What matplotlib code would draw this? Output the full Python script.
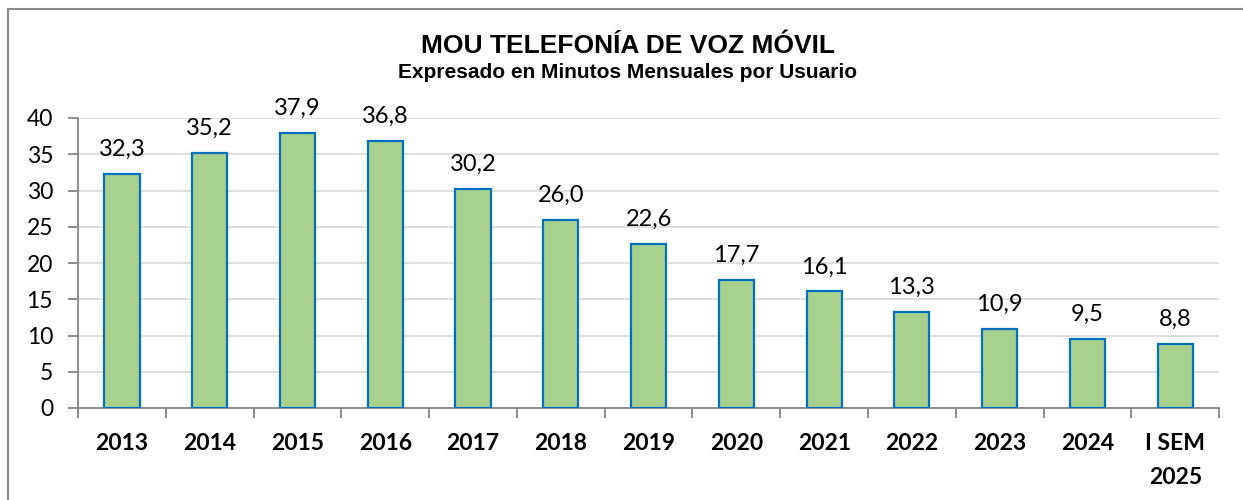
#!/usr/bin/env python3
"""MOU telefonía de voz móvil: bar chart of monthly minutes per user."""

import matplotlib

matplotlib.use("Agg")
import matplotlib.pyplot as plt
from matplotlib.patches import Rectangle

years = ["2013", "2014", "2015", "2016", "2017", "2018", "2019",
         "2020", "2021", "2022", "2023", "2024", "I SEM\n2025"]
mou = [32.3, 35.2, 37.9, 36.8, 30.2, 26.0, 22.6, 17.7, 16.1, 13.3, 10.9, 9.5, 8.8]
y_ticks = [0, 5, 10, 15, 20, 25, 30, 35, 40]

TITLE = "MOU TELEFONÍA DE VOZ MÓVIL"
SUBTITLE = "Expresado en Minutos Mensuales por Usuario"

BAR_FILL = "#a9d18e"
BAR_EDGE = "#0070c0"
AXIS_GRAY = "#868686"
GRID_GRAY = "#d9d9d9"

plt.rcParams["font.family"] = ["Lato", "DejaVu Sans"]

fig = plt.figure(figsize=(12.43, 5.0), dpi=100)
ax = fig.add_axes([0.0628, 0.184, 0.918, 0.580])

# outer chart frame (left and top only are visible in the reference)
fig.patches.append(Rectangle((0.0068, -0.05), 1.2, 0.032 + 1.0, transform=fig.transFigure,
                             fill=False, edgecolor="#8c8c8c", linewidth=1.5))

x = list(range(len(years)))
ax.bar(x, mou, width=0.4, color=BAR_FILL, edgecolor=BAR_EDGE, linewidth=1.6, zorder=3)

for xi, v in zip(x, mou):
    ax.annotate(f"{v:.1f}".replace(".", ","), (xi, v), xytext=(0, 10),
                textcoords="offset points", ha="center", va="bottom", fontsize=17)

ax.set_xlim(-0.5, len(years) - 0.5)
ax.set_ylim(0, 40)
ax.set_yticks(y_ticks)
ax.set_yticklabels([str(t) for t in y_ticks], fontsize=16.5)
ax.yaxis.grid(True, color=GRID_GRAY, linewidth=1.2, zorder=0)
ax.set_axisbelow(True)

ax.set_xticks(x)
ax.set_xticklabels(years, fontsize=16.5, fontweight="bold", va="top", linespacing=1.75)
ax.tick_params(axis="x", length=0, pad=18)
ax.set_xticks([i - 0.5 for i in range(len(years) + 1)], minor=True)
ax.tick_params(axis="x", which="minor", length=7, width=1.3, color=AXIS_GRAY, direction="out")
ax.tick_params(axis="y", length=7, width=1.3, color=AXIS_GRAY, direction="out", pad=11)

for side in ("top", "right"):
    ax.spines[side].set_visible(False)
for side in ("left", "bottom"):
    ax.spines[side].set_color(AXIS_GRAY)
    ax.spines[side].set_linewidth(1.3)

fig.text(0.505, 0.908, TITLE, ha="center", va="center", fontsize=19,
         fontweight="bold", family="Liberation Sans")
fig.text(0.505, 0.854, SUBTITLE, ha="center", va="center", fontsize=15,
         fontweight="bold", family="Liberation Sans")

fig.savefig("out.png", dpi=100)
plt.close(fig)
